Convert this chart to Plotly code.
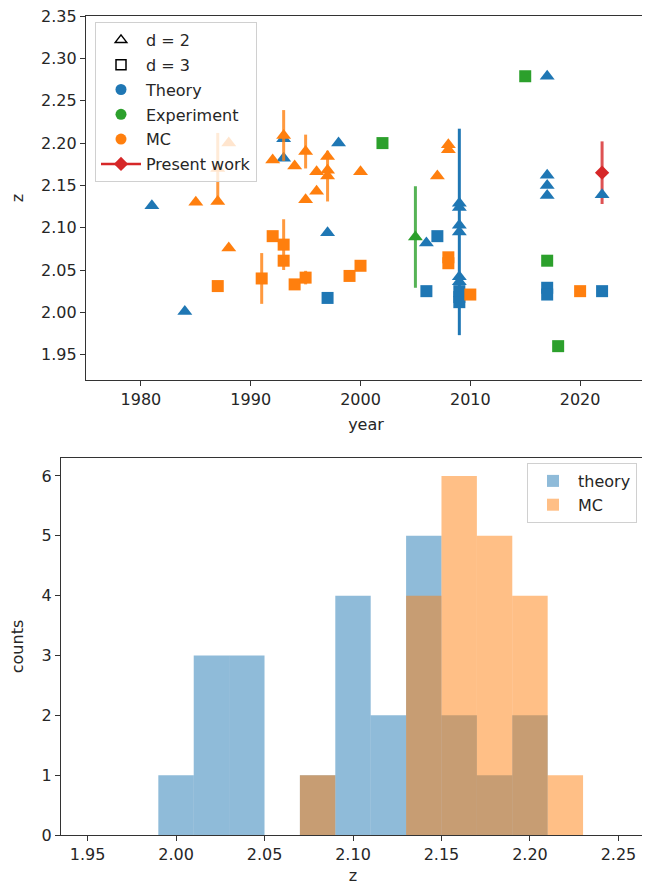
import plotly.graph_objects as go

# ---------------- data ----------------
# Theory, d = 2 (triangles)
theory_d2_year = [1981, 1984, 1993, 1993, 1997, 1998, 2006, 2009, 2009, 2009, 2009, 2009, 2009,
                  2017, 2017, 2017, 2017, 2022]
theory_d2_z = [2.126, 2.001, 2.205, 2.182, 2.094, 2.200, 2.082, 2.129, 2.124, 2.103, 2.095, 2.042, 2.036,
               2.279, 2.162, 2.150, 2.138, 2.139]
theory_d2_err = [0, 0, 0, 0, 0, 0, 0, 0, 0, 0, 0.122, 0, 0,
                 0, 0, 0, 0, 0]
# Theory, d = 3 (squares)
theory_d3_year = [1997, 2006, 2007, 2009, 2009, 2009, 2017, 2017, 2022]
theory_d3_z = [2.017, 2.025, 2.090, 2.025, 2.018, 2.012, 2.029, 2.021, 2.025]

# Experiment
exp_d2_year = [2005]
exp_d2_z = [2.089]
exp_d2_err = [0.06]
exp_d3_year = [2002, 2015, 2017, 2018]
exp_d3_z = [2.200, 2.279, 2.061, 1.960]

# MC, d = 2 (triangles)
mc_d2_year = [1985, 1987, 1987, 1988, 1988, 1992, 1993, 1994, 1995, 1995, 1996, 1996,
              1997, 1997, 1997, 2000, 2007, 2008, 2008]
mc_d2_z = [2.130, 2.131, 2.170, 2.076, 2.200, 2.180, 2.209, 2.173, 2.190, 2.133, 2.166, 2.143,
           2.184, 2.168, 2.161, 2.166, 2.161, 2.198, 2.192]
mc_d2_err = [0, 0, 0.042, 0, 0, 0, 0.03, 0, 0.02, 0, 0, 0,
             0, 0, 0.03, 0, 0, 0, 0]
# MC, d = 3 (squares)
mc_d3_year = [1987, 1991, 1992, 1993, 1993, 1994, 1995, 1999, 2000, 2008, 2008, 2010, 2020]
mc_d3_z = [2.031, 2.040, 2.090, 2.080, 2.061, 2.033, 2.041, 2.043, 2.055, 2.065, 2.058, 2.021, 2.025]
mc_d3_err = [0, 0.03, 0, 0.03, 0, 0, 0.008, 0, 0, 0, 0, 0, 0]

# Present work
present_year = [2022]
present_z = [2.165]
present_err = [0.037]

# Histogram (bin edges and counts)
bin_edges = [1.99, 2.01, 2.03, 2.05, 2.07, 2.09, 2.11, 2.13, 2.15, 2.17, 2.19, 2.21, 2.23]
theory_counts = [1, 3, 3, 0, 1, 4, 2, 5, 2, 1, 2, 0]
mc_counts = [0, 0, 0, 0, 1, 0, 0, 4, 6, 5, 4, 1]

year_ticks = [1980, 1990, 2000, 2010, 2020]
z_ticks_top = [1.95, 2.00, 2.05, 2.10, 2.15, 2.20, 2.25, 2.30, 2.35]
z_ticks_bottom = [1.95, 2.00, 2.05, 2.10, 2.15, 2.20, 2.25]
count_ticks = [0, 1, 2, 3, 4, 5, 6]

# ---------------- styling ----------------
BLUE = '#1f77b4'
ORANGE = '#ff7f0e'
GREEN = '#2ca02c'
RED = '#d62728'
FONT = 'DejaVu Sans'
TXT = '#262626'
FS = 16
W, H = 650, 886
OFF = 8  # page body margin of the html output


def fx(px):
    return (px - OFF) / W


def fy(py):
    return 1 - (py - OFF) / H


def ebar(arr, color):
    return dict(type='data', array=arr, visible=True, width=0, thickness=3, color=color)


fig = go.Figure()

TRI = 13
SQ = 12

# Present work first (drawn below theory marks)
fig.add_trace(go.Scatter(x=present_year, y=present_z, mode='markers',
                         marker=dict(symbol='diamond', size=11, color=RED),
                         error_y=ebar(present_err, 'rgba(214,39,40,0.8)'),
                         showlegend=False, xaxis='x', yaxis='y'))
# Theory
fig.add_trace(go.Scatter(x=theory_d2_year, y=theory_d2_z, mode='markers',
                         marker=dict(symbol='triangle-up', size=TRI, color=BLUE),
                         error_y=ebar(theory_d2_err, BLUE),
                         showlegend=False, xaxis='x', yaxis='y'))
fig.add_trace(go.Scatter(x=theory_d3_year, y=theory_d3_z, mode='markers',
                         marker=dict(symbol='square', size=SQ, color=BLUE),
                         showlegend=False, xaxis='x', yaxis='y'))
# Experiment
fig.add_trace(go.Scatter(x=exp_d2_year, y=exp_d2_z, mode='markers',
                         marker=dict(symbol='triangle-up', size=TRI, color=GREEN),
                         error_y=ebar(exp_d2_err, 'rgba(44,160,44,0.8)'),
                         showlegend=False, xaxis='x', yaxis='y'))
fig.add_trace(go.Scatter(x=exp_d3_year, y=exp_d3_z, mode='markers',
                         marker=dict(symbol='square', size=SQ, color=GREEN),
                         showlegend=False, xaxis='x', yaxis='y'))
# MC
fig.add_trace(go.Scatter(x=mc_d2_year, y=mc_d2_z, mode='markers',
                         marker=dict(symbol='triangle-up', size=TRI, color=ORANGE),
                         error_y=ebar(mc_d2_err, 'rgba(255,127,14,0.8)'),
                         showlegend=False, xaxis='x', yaxis='y'))
fig.add_trace(go.Scatter(x=mc_d3_year, y=mc_d3_z, mode='markers',
                         marker=dict(symbol='square', size=SQ, color=ORANGE),
                         error_y=ebar(mc_d3_err, 'rgba(255,127,14,0.8)'),
                         showlegend=False, xaxis='x', yaxis='y'))

# Legend proxies for the top panel
legend_items = [
    ('d = 2', dict(symbol='triangle-up-open', size=10, color='black', line=dict(width=1.5, color='black')), 'markers', None),
    ('d = 3', dict(symbol='square-open', size=10, color='black', line=dict(width=1.5, color='black')), 'markers', None),
    ('Theory', dict(symbol='circle', size=11, color=BLUE), 'markers', None),
    ('Experiment', dict(symbol='circle', size=11, color=GREEN), 'markers', None),
    ('MC', dict(symbol='circle', size=11, color=ORANGE), 'markers', None),
    ('Present work', dict(symbol='diamond', size=11, color=RED), 'lines+markers', dict(color=RED, width=2.5)),
]
for i, (name, mk, mode, ln) in enumerate(legend_items):
    kw = dict(x=[None], y=[None], mode=mode, marker=mk, name=name,
              legend='legend', legendgroup='g%d' % i, xaxis='x', yaxis='y')
    if ln is not None:
        kw['line'] = ln
    fig.add_trace(go.Scatter(**kw))

# Histogram (bottom panel)
centers = [(bin_edges[i] + bin_edges[i + 1]) / 2 for i in range(len(bin_edges) - 1)]
widths = [bin_edges[i + 1] - bin_edges[i] for i in range(len(bin_edges) - 1)]
fig.add_trace(go.Bar(x=centers, y=theory_counts, width=widths, name='theory',
                     marker=dict(color='rgba(31,119,180,0.5)', line=dict(width=0)),
                     legend='legend2', xaxis='x2', yaxis='y2'))
fig.add_trace(go.Bar(x=centers, y=mc_counts, width=widths, name='MC',
                     marker=dict(color='rgba(255,127,14,0.5)', line=dict(width=0)),
                     legend='legend2', xaxis='x2', yaxis='y2'))

axis_common = dict(showline=True, mirror=True, linecolor='#333333', linewidth=1.2,
                   ticks='outside', ticklen=5, tickwidth=1, tickcolor='#333333',
                   showgrid=False, zeroline=False, automargin=False,
                   ticklabeloverflow='allow',
                   tickfont=dict(family=FONT, size=FS, color=TXT),
                   title_font=dict(family=FONT, size=FS, color=TXT))

fig.update_layout(
    template='none',
    width=W, height=H,
    margin=dict(l=0, r=0, t=0, b=0, autoexpand=False),
    paper_bgcolor='white', plot_bgcolor='white',
    barmode='overlay',
    font=dict(family=FONT, size=FS, color=TXT),
    xaxis=dict(domain=[fx(86), fx(646)], anchor='y', range=[1975, 2026],
               tickvals=year_ticks, title=dict(text='year', standoff=10), **axis_common),
    yaxis=dict(domain=[fy(380), fy(16)], anchor='x', range=[1.92, 2.3502],
               tickvals=z_ticks_top, tickformat='.2f', title=dict(text='z', standoff=18), **axis_common),
    xaxis2=dict(domain=[fx(61), fx(645)], anchor='y2', range=[1.935, 2.265],
                tickvals=z_ticks_bottom, tickformat='.2f', title=dict(text='z', standoff=6), **axis_common),
    yaxis2=dict(domain=[fy(835), fy(458)], anchor='x2', range=[0, 6.3],
                tickvals=count_ticks, title=dict(text='counts', standoff=16), **axis_common),
    legend=dict(x=fx(95), y=fy(22), xanchor='left', yanchor='top',
                bgcolor='rgba(255,255,255,0.8)', bordercolor='#d0d0d0', borderwidth=1,
                font=dict(family=FONT, size=FS, color=TXT), tracegroupgap=1, itemwidth=40),
    legend2=dict(x=fx(637), y=fy(463), xanchor='right', yanchor='top',
                 bgcolor='rgba(255,255,255,0.8)', bordercolor='#d0d0d0', borderwidth=1,
                 font=dict(family=FONT, size=FS, color=TXT), itemwidth=40),
)

fig.write_html('out.html')
